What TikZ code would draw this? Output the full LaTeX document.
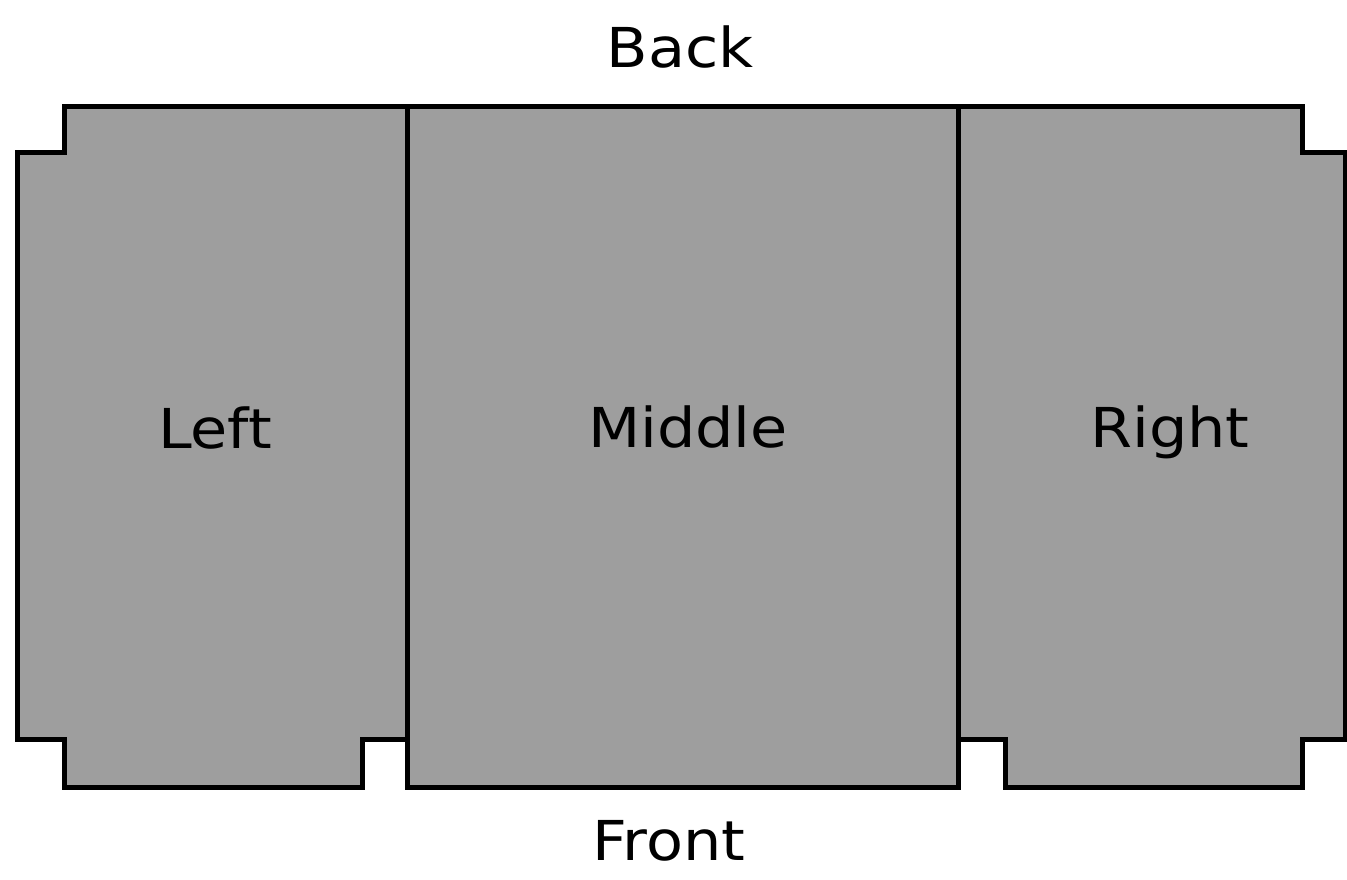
\documentclass[tikz,border=0pt]{standalone}
\usepackage{fontspec}
\setmainfont{DejaVu Sans}[FakeStretch=1.1,Ligatures={NoCommon}]
\definecolor{panelgray}{HTML}{9E9E9E}
\begin{document}
\begin{tikzpicture}[x=1pt,y=-1pt,
  panel/.style={fill=panelgray,draw=black,line width=5pt,line join=miter},
  lbl/.style={inner sep=0pt,anchor=base,font=\fontsize{55}{60}\selectfont}]
\useasboundingbox (0,0) rectangle (1347,880);
\draw[panel] (17,153) -- (64,153) -- (64,107) -- (407,107) -- (407,739) -- (362,739) -- (362,787) -- (64,787) -- (64,739) -- (17,739) -- cycle;
\draw[panel] (407,107) rectangle (958,787);
\draw[panel] (958,107) -- (1302,107) -- (1302,153) -- (1345,153) -- (1345,739) -- (1302,739) -- (1302,787) -- (1005,787) -- (1005,739) -- (958,739) -- cycle;
\node[lbl] (back) at (680,68) {Back};
\node[lbl] (left) at (215,448) {Left};
\node[lbl] (middle) at (688,447) {Middle};
\node[lbl] (right) at (1170,447) {Right};
\node[lbl] (front) at (669,860) {Front};
\end{tikzpicture}
\end{document}
